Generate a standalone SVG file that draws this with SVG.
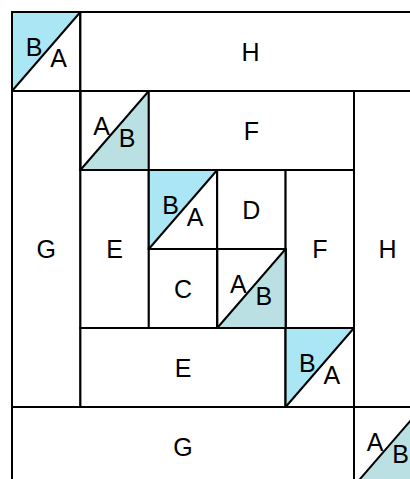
<svg xmlns="http://www.w3.org/2000/svg" width="410" height="479" viewBox="0 0 410 479">
<defs>
<style>
.c{fill:#ffffff;stroke:#000000;stroke-width:2}
.b{fill:#aae6f3;stroke:none}
.t{fill:#bbe0e3;stroke:none}
.d{stroke:#000000;stroke-width:2;fill:none}
text{font-family:"Liberation Sans",Arial,sans-serif;font-size:25px;fill:#000000;text-anchor:middle}
</style>
</defs>
<rect x="0" y="0" width="410" height="479" fill="#ffffff"/>
<g id="ba1">
<rect class="c" x="12" y="12" width="68.4" height="79"/>
<polygon class="b" points="12,12 80.4,12 12,91"/>
<line class="d" x1="12" y1="91" x2="80.4" y2="12"/>
<rect class="d" x="12" y="12" width="68.4" height="79"/>
<text x="34" y="55.5">B</text><text x="58.5" y="66.5">A</text>
</g>
<g id="H1"><rect class="c" x="80.4" y="12" width="342" height="79"/><text x="250.5" y="60.5">H</text></g>
<g id="G1"><rect class="c" x="12" y="91" width="68.4" height="316"/><text x="46.2" y="258">G</text></g>
<g id="H2"><rect class="c" x="354" y="91" width="68.4" height="316"/><text x="387.5" y="258">H</text></g>
<g id="ab1">
<rect class="c" x="80.4" y="91" width="68.4" height="79"/>
<polygon class="t" points="148.8,91 148.8,170 80.4,170"/>
<line class="d" x1="80.4" y1="170" x2="148.8" y2="91"/>
<rect class="d" x="80.4" y="91" width="68.4" height="79"/>
<text x="101.6" y="134.5">A</text><text x="127" y="146.5">B</text>
</g>
<g id="F1"><rect class="c" x="148.8" y="91" width="205.2" height="79"/><text x="251.4" y="139.5">F</text></g>
<g id="E1"><rect class="c" x="80.4" y="170" width="68.4" height="158"/><text x="114.6" y="258">E</text></g>
<g id="ba2">
<rect class="c" x="148.8" y="170" width="68.4" height="79"/>
<polygon class="b" points="148.8,170 217.2,170 148.8,249"/>
<line class="d" x1="148.8" y1="249" x2="217.2" y2="170"/>
<rect class="d" x="148.8" y="170" width="68.4" height="79"/>
<text x="170.5" y="213.5">B</text><text x="195" y="225.5">A</text>
</g>
<g id="D"><rect class="c" x="217.2" y="170" width="68.4" height="79"/><text x="251.4" y="218.5">D</text></g>
<g id="F2"><rect class="c" x="285.6" y="170" width="68.4" height="158"/><text x="319.8" y="258">F</text></g>
<g id="C"><rect class="c" x="148.8" y="249" width="68.4" height="79"/><text x="183" y="297.5">C</text></g>
<g id="ab2">
<rect class="c" x="217.2" y="249" width="68.4" height="79"/>
<polygon class="t" points="285.6,249 285.6,328 217.2,328"/>
<line class="d" x1="217.2" y1="328" x2="285.6" y2="249"/>
<rect class="d" x="217.2" y="249" width="68.4" height="79"/>
<text x="238.4" y="292.5">A</text><text x="263.8" y="304.5">B</text>
</g>
<g id="E2"><rect class="c" x="80.4" y="328" width="205.2" height="79"/><text x="183" y="376.5">E</text></g>
<g id="ba3">
<rect class="c" x="285.6" y="328" width="68.4" height="79"/>
<polygon class="b" points="285.6,328 354,328 285.6,407"/>
<line class="d" x1="285.6" y1="407" x2="354" y2="328"/>
<rect class="d" x="285.6" y="328" width="68.4" height="79"/>
<text x="307.3" y="371.5">B</text><text x="331.8" y="383.5">A</text>
</g>
<g id="G2"><rect class="c" x="12" y="407" width="342" height="79"/><text x="183" y="455.5">G</text></g>
<g id="ab3">
<rect class="c" x="354" y="407" width="68.4" height="79"/>
<polygon class="t" points="422.4,407 422.4,486 354,486"/>
<line class="d" x1="354" y1="486" x2="422.4" y2="407"/>
<rect class="d" x="354" y="407" width="68.4" height="79"/>
<text x="375.2" y="450.5">A</text><text x="400.6" y="462.5">B</text>
</g>
<g id="connectors"></g>
</svg>
